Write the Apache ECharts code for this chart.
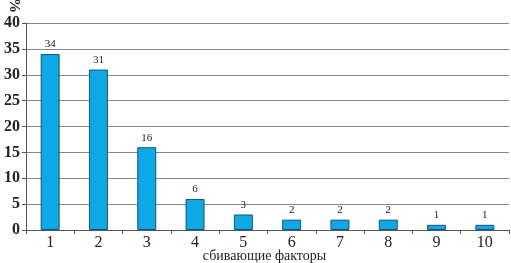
<!DOCTYPE html>
<html><head><meta charset="utf-8">
<script src="https://cdn.jsdelivr.net/npm/echarts@6/dist/echarts.min.js"></script>
<style>html,body{margin:0;padding:0;background:#fff}#c{width:511px;height:263px}</style>
</head><body><div id="c"></div>
<script>
const categories = ['1','2','3','4','5','6','7','8','9','10'];
const values = [34, 31, 16, 6, 3, 2, 2, 2, 1, 1];
const yTicks = [0, 5, 10, 15, 20, 25, 30, 35, 40];
const xName = 'сбивающие факторы';
const yName = '%';

const chart = echarts.init(document.getElementById('c'));
chart.setOption({
  animation: false,
  grid: {left: 26, right: 2, top: 23, bottom: 33, containLabel: false, outerBoundsMode: 'none'},
  xAxis: {
    type: 'category', data: categories,
    name: xName, nameLocation: 'middle', nameGap: 19, nameMoveOverlap: false,
    nameTextStyle: {fontFamily: 'Liberation Serif', fontSize: 14, color: '#222', padding: [0, 6, 0, 0]},
    axisLine: {lineStyle: {color: '#555', width: 1}},
    axisTick: {show: true, alignWithLabel: false, length: 4, lineStyle: {color: '#555'}},
    axisLabel: {fontFamily: 'Liberation Serif', fontSize: 16, color: '#222', margin: 5}
  },
  yAxis: {
    type: 'value', min: 0, max: 40, interval: 5,
    axisLine: {show: true, lineStyle: {color: '#555', width: 1}},
    axisTick: {show: true, length: 4, lineStyle: {color: '#555'}},
    axisLabel: {fontFamily: 'Liberation Serif', fontWeight: 'bold', fontSize: 16, color: '#222', margin: 6,
      formatter: v => yTicks.includes(v) ? String(v) : ''},
    splitLine: {lineStyle: {color: '#888', width: 1}}
  },
  graphic: [{
    type: 'text', left: 6, top: -2, rotation: -Math.PI/2,
    style: {text: yName, font: 'bold 15px "Liberation Serif"', fill: '#222'}
  }],
  series: [{
    type: 'bar', data: values, barWidth: 19,
    itemStyle: {color: '#0ea8e6', borderColor: '#14547a', borderWidth: 1},
    label: {show: true, position: 'top', distance: 4, fontFamily: 'Liberation Serif', fontSize: 11, color: '#222'}
  }]
});
</script></body></html>
